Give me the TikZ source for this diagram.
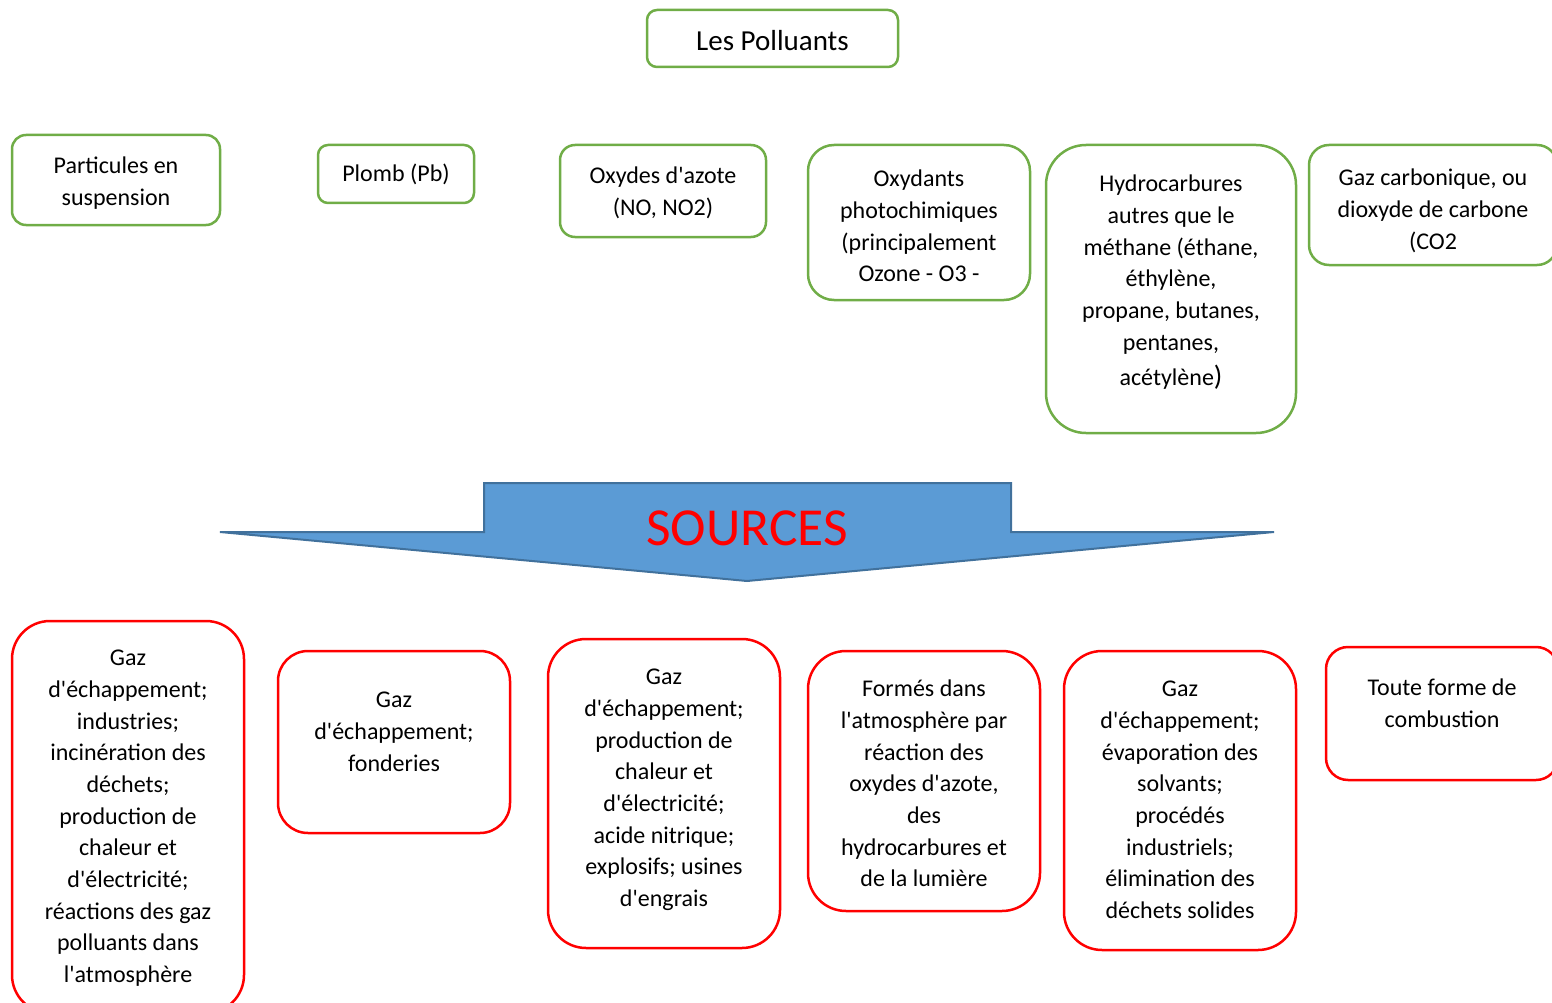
\documentclass[tikz,border=0pt]{standalone}
\usepackage{fontspec}
\setmainfont{Carlito}[Ligatures=TeXOff]
\definecolor{grn}{HTML}{70AD47}
\definecolor{rd}{HTML}{FF0000}
\definecolor{arrfill}{HTML}{5B9BD5}
\definecolor{arrdraw}{HTML}{41719C}
\begin{document}
\begin{tikzpicture}[x=1pt,y=-1pt,
  gbox/.style={draw=grn,line width=2.5pt,inner sep=0pt,outer sep=0pt},
  rbox/.style={draw=rd,line width=2.5pt,inner sep=0pt,outer sep=0pt},
  txt/.style={anchor=north,align=center,inner sep=0pt,font=\fontsize{24}{31.7}\selectfont},
]
\clip (0,0) rectangle (1552,1003);
% title
\node[gbox,minimum width=251pt,minimum height=57pt,rounded corners=10pt] (title) at (772.5,38.5) {};
\node[anchor=base,inner sep=0pt,font=\fontsize{29}{33}\selectfont] (titletxt) at (772.5,51) {Les Polluants};
% top green boxes
\node[gbox,minimum width=208pt,minimum height=90pt,rounded corners=14pt] (p1) at (116,180) {};
\node[txt] (p1t) at (116,151.3) {\strut Particules en\\suspension};
\node[gbox,minimum width=156pt,minimum height=58pt,rounded corners=10pt] (p2) at (396,174) {};
\node[txt] (p2t) at (396,159.3) {\strut Plomb (Pb)};
\node[gbox,minimum width=206pt,minimum height=92pt,rounded corners=15pt] (p3) at (663,191) {};
\node[txt] (p3t) at (663,161.3) {\strut Oxydes d'azote\\(NO, NO2)};
\node[gbox,minimum width=222pt,minimum height=155pt,rounded corners=26pt] (p4) at (919,222.5) {};
\node[txt] (p4t) at (919,164.3) {\strut Oxydants\\photochimiques\\(principalement\\Ozone - O3 -};
\node[gbox,minimum width=250pt,minimum height=288pt,rounded corners=40pt] (p5) at (1171,289) {};
\node[txt] (p5t) at (1171,169.3) {\strut Hydrocarbures\\autres que le\\méthane (éthane,\\éthylène,\\propane, butanes,\\pentanes,\\[4pt]acétylène{\fontsize{28}{31.7}\selectfont)}};
\node[gbox,minimum width=248pt,minimum height=120pt,rounded corners=20pt] (p6) at (1433,205) {};
\node[txt] (p6t) at (1433,163.3) {\strut Gaz carbonique, ou\\dioxyde de carbone\\(CO2};
% arrow
\draw[fill=arrfill,draw=arrdraw,line width=2pt,line join=miter]
  (484,483) -- (1011,483) -- (1011,532) -- (1274,532) -- (747,581) -- (220,532) -- (484,532) -- cycle;
\node[anchor=base,inner sep=0pt,text=rd,font=\fontsize{53.5}{58}\selectfont] (src) at (747,545) {SOURCES};
% bottom red boxes
\node[rbox,minimum width=232pt,minimum height=392pt,rounded corners=38pt] (s1) at (128,817) {};
\node[txt] (s1t) at (128,643.3) {\strut Gaz\\d'échappement;\\industries;\\incinération des\\déchets;\\production de\\chaleur et\\d'électricité;\\réactions des gaz\\polluants dans\\l'atmosphère};
\node[rbox,minimum width=232pt,minimum height=182pt,rounded corners=30pt] (s2) at (394,742) {};
\node[txt] (s2t) at (394,685.3) {\strut Gaz\\d'échappement;\\fonderies};
\node[rbox,minimum width=232pt,minimum height=309pt,rounded corners=38pt] (s3) at (664,793.5) {};
\node[txt] (s3t) at (664,662.3) {\strut Gaz\\d'échappement;\\production de\\chaleur et\\d'électricité;\\acide nitrique;\\explosifs; usines\\d'engrais};
\node[rbox,minimum width=232pt,minimum height=260pt,rounded corners=38pt] (s4) at (924,781) {};
\node[txt] (s4t) at (924,674.3) {\strut Formés dans\\l'atmosphère par\\réaction des\\oxydes d'azote,\\des\\hydrocarbures et\\de la lumière};
\node[rbox,minimum width=232pt,minimum height=299pt,rounded corners=38pt] (s5) at (1180,800.5) {};
\node[txt] (s5t) at (1180,674.3) {\strut Gaz\\d'échappement;\\évaporation des\\solvants;\\procédés\\industriels;\\élimination des\\déchets solides};
\node[rbox,minimum width=232pt,minimum height=133pt,rounded corners=22pt] (s6) at (1442,713.5) {};
\node[txt] (s6t) at (1442,673.3) {\strut Toute forme de\\combustion};
\end{tikzpicture}
\end{document}
